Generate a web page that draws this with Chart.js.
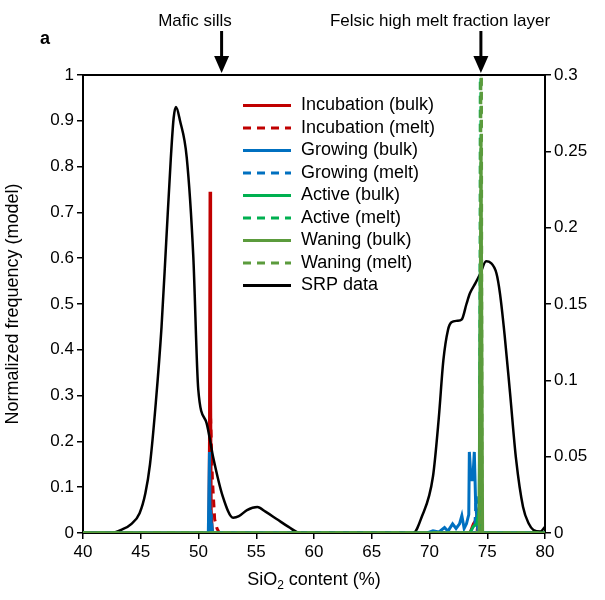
<!DOCTYPE html>
<html>
<head>
<title>SiO2 frequency</title>
<script src="https://cdn.jsdelivr.net/npm/chart.js"></script>
<style>
  body { margin: 0; background: #fff; }
</style>
</head>
<body>
<canvas id="myChart" width="605" height="600"></canvas>

<script>
// model curves (left axis), x = SiO2 %, y = normalized frequency
var incBulkX = [40, 50.9, 50.95, 51.0, 51.05, 51.1, 51.2, 73.5, 73.8, 74.0, 74.2, 74.35, 74.5, 80];
var incBulkY = [0, 0, 0.2, 0.745, 0.3, 0.05, 0, 0, 0.02, 0.028, 0.046, 0.02, 0, 0];

var incMeltX = [40, 50.95, 51.05, 51.2, 51.4, 51.6, 51.8, 74.1, 74.3, 74.45, 80];
var incMeltY = [0, 0, 0.25, 0.12, 0.03, 0.01, 0, 0, 0.04, 0, 0];

var groBulkX = [40, 50.85, 50.95, 51.0, 51.05, 51.1, 51.2, 69.8, 70.3, 70.8, 71.3, 71.6, 72.0, 72.3, 72.6, 72.8, 73.0, 73.2, 73.4, 73.45, 73.6, 73.75, 73.88, 74.0, 74.2, 74.5, 80];
var groBulkY = [0, 0, 0.177, 0.03, 0.05, 0.02, 0, 0, 0.005, 0.002, 0.012, 0.004, 0.02, 0.01, 0.02, 0.038, 0.01, 0.02, 0.04, 0.177, 0.116, 0.116, 0.177, 0.06, 0.01, 0, 0];

var groMeltX = [40, 51.0, 51.1, 51.2, 73.9, 74.05, 74.2, 80];
var groMeltY = [0, 0, 0.04, 0, 0, 0.08, 0, 0];

var actBulkX = [40, 73.5, 73.8, 74.1, 74.3, 74.4, 74.5, 80];
var actBulkY = [0, 0, 0.014, 0.02, 0.05, 0.59, 0, 0];

var actMeltX = [40, 74.35, 74.42, 74.5, 80];
var actMeltY = [0, 0, 1.5, 0, 0];

var wanBulkX = [40, 74.3, 74.46, 74.6, 80];
var wanBulkY = [0, 0, 0.86, 0, 0];

var wanMeltX = [40, 74.4, 74.47, 74.55, 80];
var wanMeltY = [0, 0, 1.5, 0, 0];

// SRP data (right axis)
var srpX = [40, 42.5, 43.3, 44.2, 44.9, 45.4, 45.8, 46.3, 46.8, 47.2, 47.6, 47.85, 48.05, 48.4, 48.98, 49.55, 49.98, 50.7, 51.26, 52.1, 53.0, 53.5, 54.2, 55.1, 55.8, 56.8, 57.8, 58.8, 68.6, 69.3, 70.3, 70.8, 71.2, 71.6, 71.9, 72.4, 72.8, 73.2, 73.5, 74.0, 74.4, 74.9, 75.3, 75.8, 76.1, 76.5, 76.97, 77.5, 78.1, 78.6, 79.0, 79.6, 80];
var srpY = [0, 0, 0.002, 0.006, 0.013, 0.026, 0.045, 0.085, 0.135, 0.19, 0.245, 0.272, 0.279, 0.27, 0.246, 0.181, 0.094, 0.072, 0.05, 0.024, 0.01, 0.011, 0.015, 0.017, 0.014, 0.009, 0.004, 0, 0, 0.01, 0.037, 0.075, 0.113, 0.133, 0.138, 0.139, 0.14, 0.15, 0.157, 0.164, 0.17, 0.178, 0.177, 0.17, 0.157, 0.13, 0.092, 0.048, 0.017, 0.006, 0.002, 0.001, 0.004];

var leftTicks = [0, 0.1, 0.2, 0.3, 0.4, 0.5, 0.6, 0.7, 0.8, 0.9, 1];
var rightTicks = [0, 0.05, 0.1, 0.15, 0.2, 0.25, 0.3];

function pts(xs, ys) {
    return xs.map(function(x, i) { return { x: x, y: ys[i] }; });
}

var FONT = "'Liberation Sans', Arial, sans-serif";
var dash = [8, 6];

var datasets = [
    { label: "Incubation (bulk)", data: pts(incBulkX, incBulkY), borderColor: "#C00000", order: 8 },
    { label: "Incubation (melt)", data: pts(incMeltX, incMeltY), borderColor: "#C00000", borderDash: dash, order: 7 },
    { label: "Growing (bulk)", data: pts(groBulkX, groBulkY), borderColor: "#0070C0", order: 6 },
    { label: "Growing (melt)", data: pts(groMeltX, groMeltY), borderColor: "#0070C0", borderDash: dash, order: 5 },
    { label: "Active (bulk)", data: pts(actBulkX, actBulkY), borderColor: "#00B050", order: 3 },
    { label: "Active (melt)", data: pts(actMeltX, actMeltY), borderColor: "#00B050", borderDash: dash, order: 2 },
    { label: "Waning (bulk)", data: pts(wanBulkX, wanBulkY), borderColor: "#5B9B3C", order: 1 },
    { label: "Waning (melt)", data: pts(wanMeltX, wanMeltY), borderColor: "#5B9B3C", borderDash: dash, order: 0 },
    { label: "SRP data", data: pts(srpX, srpY), borderColor: "#000000", yAxisID: "y1", cubicInterpolationMode: "monotone", order: 4 }
];
datasets.forEach(function(d) {
    d.showLine = true;
    d.pointRadius = 0;
    d.borderWidth = d.label === "SRP data" ? 2.5 : 3;
    d.yAxisID = d.yAxisID || "y";
});

// legend, arrows, panel letter, x title with subscript
var decor = {
    id: "decor",
    afterDraw: function(chart) {
        var ctx = chart.ctx;
        var a = chart.chartArea;
        var xs = chart.scales.x;
        ctx.save();

        // top frame line
        ctx.strokeStyle = "#000";
        ctx.lineWidth = 2;
        ctx.beginPath();
        ctx.moveTo(a.left, a.top);
        ctx.lineTo(a.right, a.top);
        ctx.stroke();

        // legend
        ctx.font = "18px " + FONT;
        ctx.textBaseline = "middle";
        ctx.textAlign = "left";
        chart.data.datasets.forEach(function(ds, i) {
            var y = 105.5 + i * 22.5;
            ctx.strokeStyle = ds.borderColor;
            ctx.lineWidth = 3;
            ctx.setLineDash(ds.borderDash || []);
            ctx.beginPath();
            ctx.moveTo(243, y);
            ctx.lineTo(291, y);
            ctx.stroke();
            ctx.setLineDash([]);
            ctx.fillStyle = "#000";
            ctx.fillText(ds.label, 301, y);
        });

        // annotations with arrows
        ctx.textBaseline = "alphabetic";
        ctx.textAlign = "center";
        ctx.font = "17px " + FONT;
        [["Mafic sills", 52.0, 195], ["Felsic high melt fraction layer", 74.45, 440]].forEach(function(n) {
            var px = xs.getPixelForValue(n[1]);
            ctx.fillStyle = "#000";
            ctx.fillText(n[0], n[2], 26);
            ctx.strokeStyle = "#000";
            ctx.lineWidth = 3;
            ctx.beginPath();
            ctx.moveTo(px, 31);
            ctx.lineTo(px, 58);
            ctx.stroke();
            ctx.beginPath();
            ctx.moveTo(px - 7.5, 56);
            ctx.lineTo(px + 7.5, 56);
            ctx.lineTo(px, 73);
            ctx.closePath();
            ctx.fill();
        });

        // panel letter
        ctx.font = "bold 18px " + FONT;
        ctx.textAlign = "left";
        ctx.fillText("a", 40, 44);

        // x axis title
        var main1 = "SiO", sub = "2", main2 = " content (%)";
        ctx.font = "18px " + FONT;
        var w1 = ctx.measureText(main1).width, w3 = ctx.measureText(main2).width;
        ctx.font = "12px " + FONT;
        var w2 = ctx.measureText(sub).width;
        var x0 = (a.left + a.right) / 2 - (w1 + w2 + w3) / 2;
        var by = 585;
        ctx.font = "18px " + FONT;
        ctx.fillText(main1, x0, by);
        ctx.font = "12px " + FONT;
        ctx.fillText(sub, x0 + w1, by + 4);
        ctx.font = "18px " + FONT;
        ctx.fillText(main2, x0 + w1 + w2, by);

        ctx.restore();
    }
};

function fmt(v) { return String(Number(v.toFixed(2))); }

var axisGrid = { display: true, drawOnChartArea: false, drawTicks: true, tickLength: 6, color: "#000", lineWidth: 1.5 };
var axisBorder = { display: true, color: "#000", width: 2 };
var tickFont = { family: FONT, size: 17 };

var ctx = document.getElementById("myChart").getContext("2d");
new Chart(ctx, {
    type: "scatter",
    data: { datasets: datasets },
    options: {
        responsive: false,
        animation: false,
        layout: { padding: { top: 75, left: 0, right: 0, bottom: 0 } },
        plugins: {
            legend: { display: false },
            tooltip: { enabled: false }
        },
        scales: {
            x: {
                type: "linear",
                min: 40, max: 80,
                ticks: { stepSize: 5, color: "#000", font: tickFont, padding: 3 },
                grid: axisGrid,
                border: axisBorder,
                afterFit: function(s) { s.height = 67; }
            },
            y: {
                position: "left",
                min: 0, max: 1,
                afterBuildTicks: function(s) { s.ticks = leftTicks.map(function(v) { return { value: v }; }); },
                ticks: { color: "#000", font: tickFont, padding: 3, callback: fmt },
                grid: axisGrid,
                border: axisBorder,
                title: { display: true, text: "Normalized frequency (model)", color: "#000", font: { family: FONT, size: 18 }, padding: { top: 2, bottom: 0 } },
                afterFit: function(s) { s.width = 83; }
            },
            y1: {
                position: "right",
                min: 0, max: 0.3,
                afterBuildTicks: function(s) { s.ticks = rightTicks.map(function(v) { return { value: v }; }); },
                ticks: { color: "#000", font: tickFont, padding: 3, callback: fmt },
                grid: axisGrid,
                border: axisBorder,
                afterFit: function(s) { s.width = 60; }
            }
        }
    },
    plugins: [decor]
});
</script>
</body>
</html>
